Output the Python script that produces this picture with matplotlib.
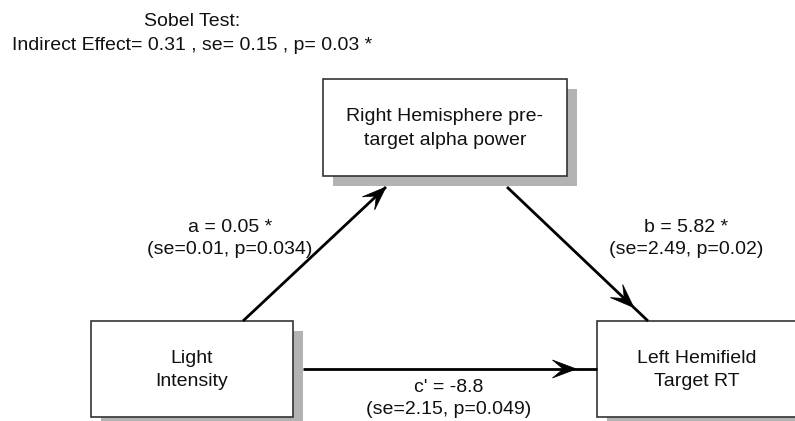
import numpy as np
import matplotlib.pyplot as plt
from matplotlib.patches import Rectangle, Polygon

plt.rcParams['font.family'] = ['Liberation Sans', 'DejaVu Sans']

# data: path labels and coefficients
node_names = ["Light\nIntensity", "Right Hemisphere pre-\ntarget alpha power", "Left Hemifield\nTarget RT"]
paths = ["a", "b", "c'"]
coef = [0.05, 5.82, -8.8]
se = [0.01, 2.49, 2.15]
pval = ["0.034", "0.02", "0.049"]
stars = [" *", " *", ""]
sobel = {"effect": 0.31, "se": 0.15, "p": 0.03}

W, H = 795, 421
fig = plt.figure(figsize=(W / 100, H / 100), dpi=100)
ax = fig.add_axes([0, 0, 1, 1])
ax.set_xlim(0, W)
ax.set_ylim(H, 0)
ax.axis('off')

FS = 14
TC = '#111111'

# boxes (x0, y0, x1, y1) in pixels
boxes = [(91, 321, 293, 417), (323, 79, 567, 176), (597, 321, 797, 417)]
shadow = 10


def draw_box(b, txt):
    x0, y0, x1, y1 = b
    ax.add_patch(Rectangle((x0 + shadow, y0 + shadow), x1 - x0, y1 - y0,
                           fc='#b3b3b3', ec='none', zorder=1))
    ax.add_patch(Rectangle((x0, y0), x1 - x0, y1 - y0,
                           fc='white', ec='#333333', lw=1.2, zorder=2))
    ax.text((x0 + x1) / 2, (y0 + y1) / 2 + 1, txt, ha='center', va='center',
            fontsize=FS, linespacing=1.5, color=TC, zorder=3)


def head(tip, d, L=24, w=9, notch=0.55):
    d = np.array(d, float)
    d /= np.hypot(*d)
    n = np.array([-d[1], d[0]])
    tip = np.array(tip, float)
    back = tip - d * L
    pts = [tip, back + n * w, tip - d * L * notch, back - n * w]
    ax.add_patch(Polygon(pts, closed=True, fc='black', ec='black', lw=0.5, zorder=4))


def arrow(p0, p1, headpos):
    ax.plot([p0[0], p1[0]], [p0[1], p1[1]], color='black', lw=2, zorder=3,
            solid_capstyle='butt')
    d = (p1[0] - p0[0], p1[1] - p0[1])
    tip = (p0[0] + d[0] * headpos, p0[1] + d[1] * headpos)
    head(tip, d)


for b, t in zip(boxes, node_names):
    draw_box(b, t)

arrow((243, 321), (386, 187), 1.0)
arrow((507, 187), (648, 321), 0.9)
arrow((303, 369), (597, 369), 0.93)

label_pos = [(230, 227), (686, 227), (449, 387)]
for (x, y), p, c, s, pv, st in zip(label_pos, paths, coef, se, pval, stars):
    ax.text(x, y, f"{p} = {c}{st}", ha='center', va='center', fontsize=FS, color=TC)
    ax.text(x, y + 23, f"(se={s}, p={pv})", ha='center', va='center', fontsize=FS, color=TC)

ax.text(192, 22, "Sobel Test:", ha='center', va='center', fontsize=FS, color=TC)
ax.text(192, 45, f"Indirect Effect= {sobel['effect']} , se= {sobel['se']} , p= {sobel['p']} *",
        ha='center', va='center', fontsize=FS, color=TC)

fig.savefig('out.png', dpi=100)
